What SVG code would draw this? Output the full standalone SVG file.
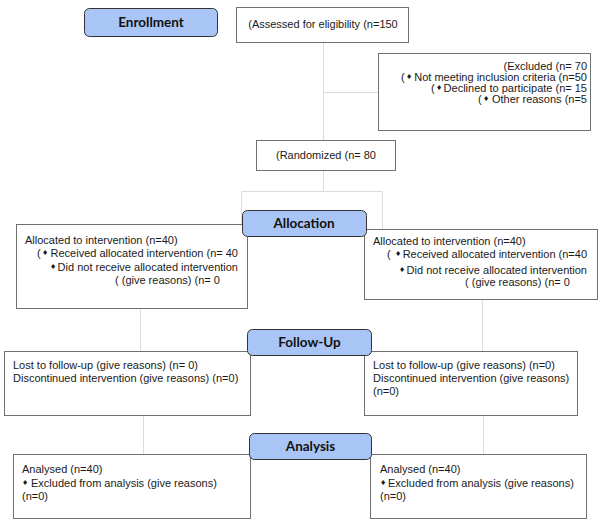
<svg xmlns="http://www.w3.org/2000/svg" width="600" height="525" viewBox="0 0 600 525">
<style>
.box{fill:#fff;stroke:#707070;stroke-width:1}
.lbl{fill:#a9c5f5;stroke:#333;stroke-width:1}
.lt{font-family:Lato,"Liberation Sans",sans-serif;font-weight:bold;font-size:13.5px;fill:#111;text-anchor:middle}
.t{font-family:"Liberation Sans",Arial,sans-serif;font-size:11px;fill:#1a1a1a}
.e{text-anchor:end}
.m{text-anchor:middle}
.b{font-family:"DejaVu Sans",sans-serif;font-size:7px;fill:#1a1a1a}
.c{fill:none;stroke:#dcdcdc;stroke-width:1}
</style>
<rect width="600" height="525" fill="#fff"/>
<g id="connectors">
<path class="c" d="M323.5 43V140M323.5 92.5H378M323.5 171V191.5M241.5 191.5H382.5M241.5 191.5V224M382.5 191.5V229M140.5 309V351M482.5 300V351M143.5 416V454M483.5 416V454"/>
</g>
<g id="enrollment">
<rect class="lbl" x="84.5" y="8.5" width="133" height="28" rx="5"/>
<text class="lt" x="151" y="27">Enrollment</text>
</g>
<g id="assessed">
<rect class="box" x="236.5" y="7.5" width="172" height="35"/>
<text class="t m" x="323" y="28">(Assessed for eligibility (n=150</text>
</g>
<g id="excluded">
<rect class="box" x="378.5" y="53.5" width="212" height="77"/>
<text class="t e" x="587" y="70">(Excluded (n= 70</text>
<text class="t" x="401" y="81">(</text><text class="b" x="406" y="79">♦</text><text class="t e" x="587" y="81">Not meeting inclusion criteria (n=50</text>
<text class="t" x="431" y="92">(</text><text class="b" x="436" y="90">♦</text><text class="t e" x="587" y="92">Declined to participate (n= 15</text>
<text class="t" x="478" y="103">(</text><text class="b" x="483" y="101">♦</text><text class="t e" x="587" y="103">Other reasons (n=5</text>
</g>
<g id="randomized">
<rect class="box" x="256.5" y="140.5" width="139" height="30"/>
<text class="t m" x="326" y="159">(Randomized (n= 80</text>
</g>
<g id="alloc-left">
<rect class="box" x="16.5" y="224.5" width="231" height="84"/>
<text class="t" x="25" y="244">Allocated to intervention (n=40)</text>
<text class="t" x="37" y="257">(</text><text class="b" x="42" y="255">♦</text><text class="t e" x="238" y="257">Received allocated intervention (n= 40</text>
<text class="b" x="50" y="269">♦</text><text class="t e" x="238" y="271">Did not receive allocated intervention</text>
<text class="t" x="115" y="284">( (give reasons) (n= 0</text>
</g>
<g id="alloc-right">
<rect class="box" x="364.5" y="229.5" width="233" height="70"/>
<text class="t" x="373" y="245">Allocated to intervention (n=40)</text>
<text class="t" x="387" y="258">(</text><text class="b" x="395" y="256">♦</text><text class="t e" x="587" y="258">Received allocated intervention (n=40</text>
<text class="b" x="399" y="272">♦</text><text class="t e" x="587" y="274">Did not receive allocated intervention</text>
<text class="t" x="465" y="286">( (give reasons) (n= 0</text>
</g>
<g id="allocation">
<rect class="lbl" x="242.5" y="210.5" width="124" height="26" rx="5"/>
<text class="lt" x="304" y="228">Allocation</text>
</g>
<g id="followup-left">
<rect class="box" x="4.5" y="351.5" width="246" height="64"/>
<text class="t" x="13" y="369">Lost to follow-up (give reasons) (n= 0)</text>
<text class="t" x="13" y="382">Discontinued intervention (give reasons) (n=0)</text>
</g>
<g id="followup-right">
<rect class="box" x="364.5" y="351.5" width="213" height="64"/>
<text class="t" x="373" y="369">Lost to follow-up (give reasons) (n=0)</text>
<text class="t" x="373" y="382">Discontinued intervention (give reasons)</text>
<text class="t" x="373" y="395">(n=0)</text>
</g>
<g id="followup">
<rect class="lbl" x="247.5" y="329.5" width="124" height="26" rx="5"/>
<text class="lt" x="309.5" y="347">Follow-Up</text>
</g>
<g id="analysis-left">
<rect class="box" x="13.5" y="454.5" width="237" height="64"/>
<text class="t" x="22" y="473">Analysed (n=40)</text>
<text class="b" x="22" y="485">♦</text><text class="t" x="31" y="487">Excluded from analysis (give reasons)</text>
<text class="t" x="22" y="500">(n=0)</text>
</g>
<g id="analysis-right">
<rect class="box" x="370.5" y="454.5" width="216" height="64"/>
<text class="t" x="380" y="473">Analysed (n=40)</text>
<text class="b" x="380" y="485">♦</text><text class="t" x="388" y="487">Excluded from analysis (give reasons)</text>
<text class="t" x="380" y="500">(n=0)</text>
</g>
<g id="analysis">
<rect class="lbl" x="249.5" y="433.5" width="122" height="26" rx="5"/>
<text class="lt" x="310.5" y="451">Analysis</text>
</g>
</svg>
